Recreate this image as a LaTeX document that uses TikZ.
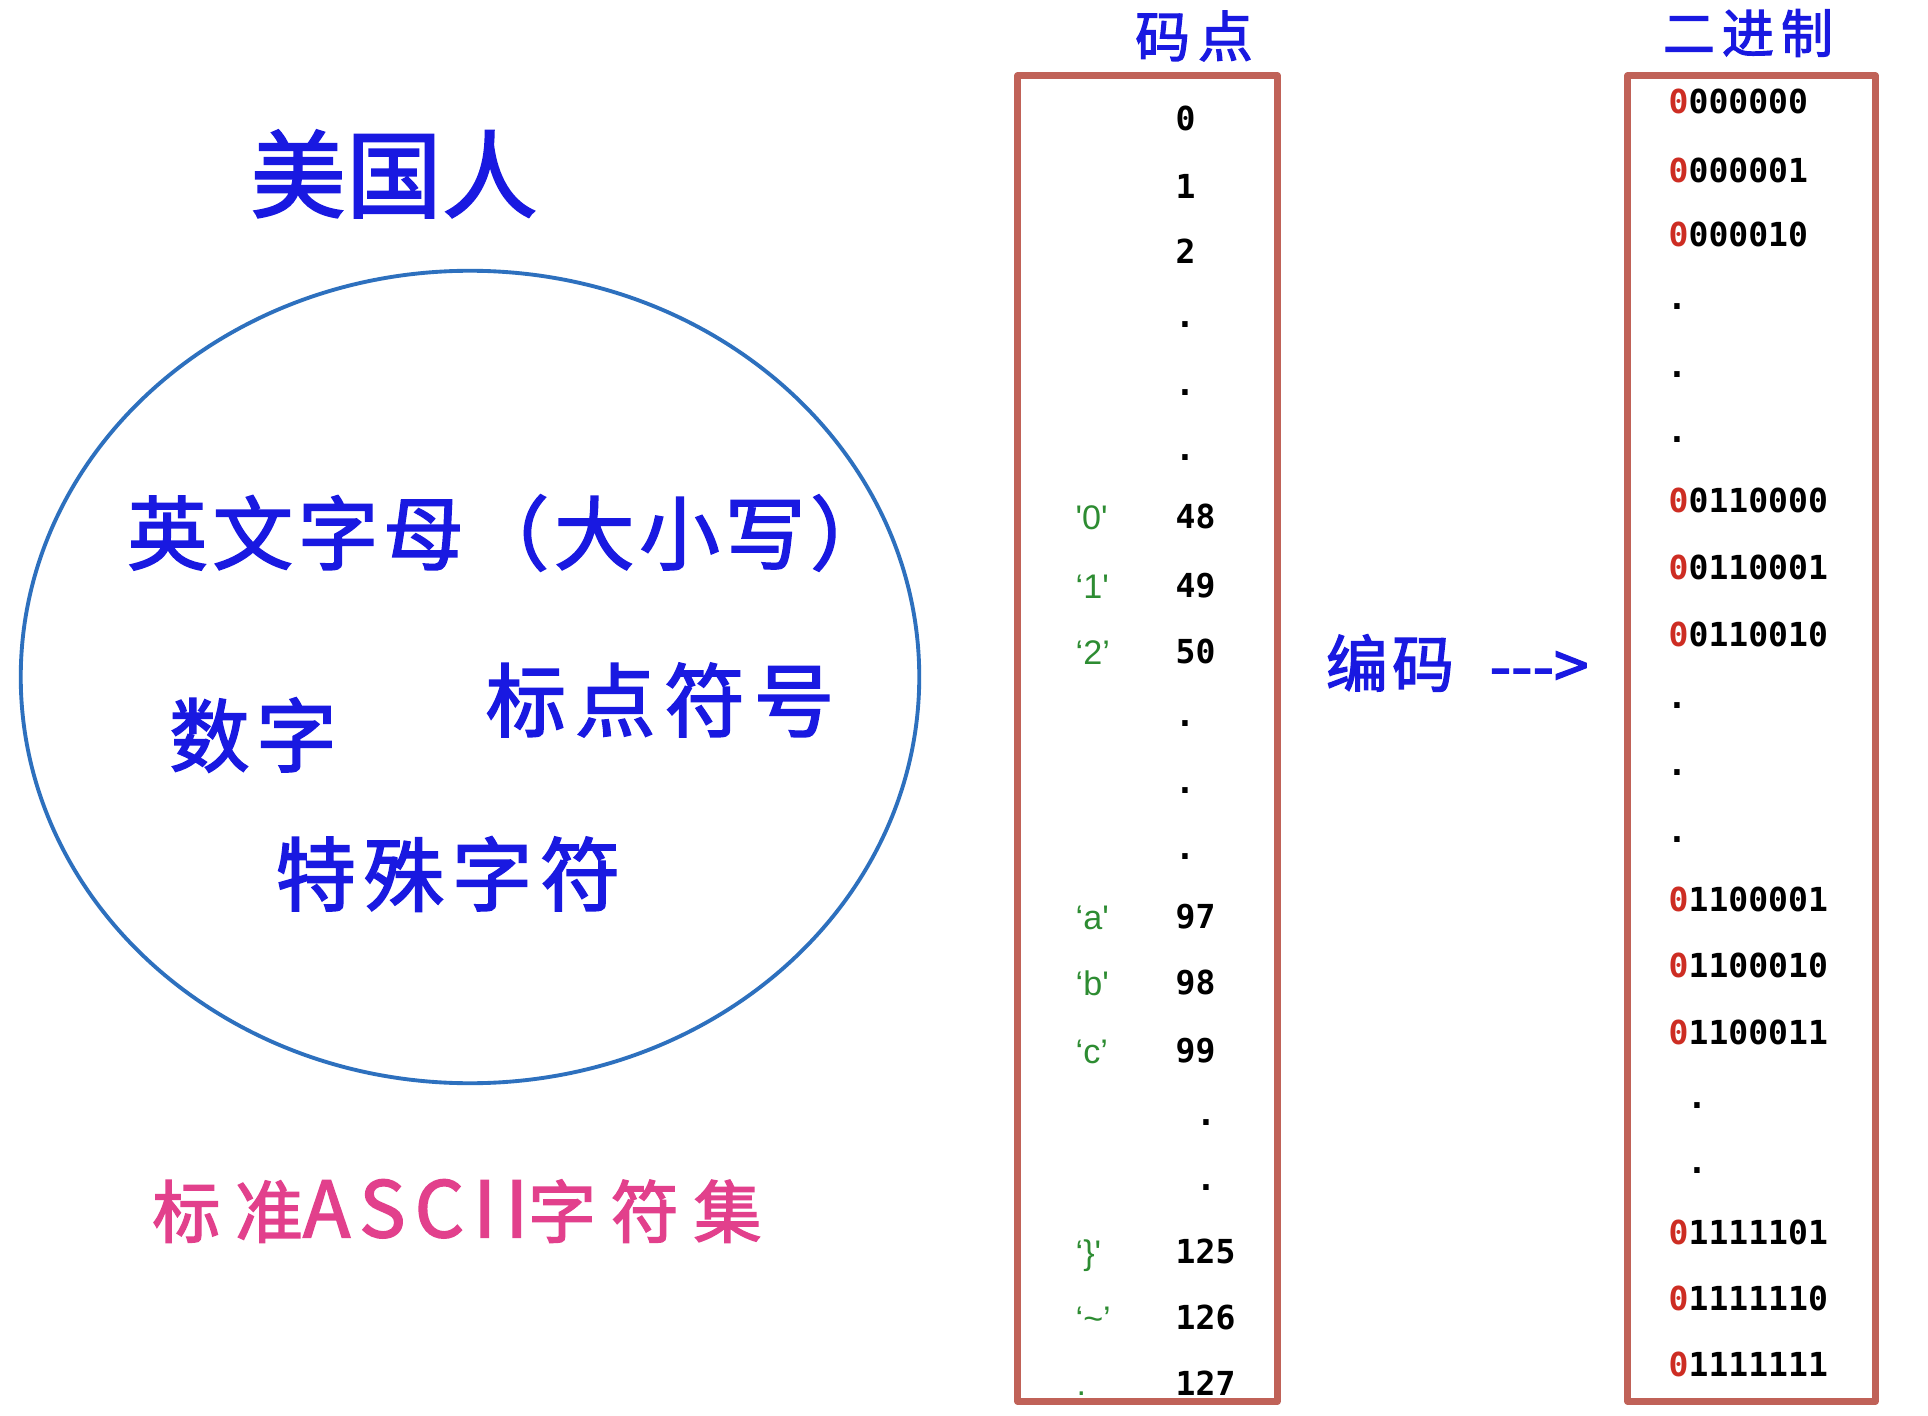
\documentclass[tikz,border=0pt]{standalone}
\usepackage{fontspec}
\usetikzlibrary{shapes.geometric}
\newfontfamily\cjkfont{Noto Sans CJK SC}[FakeBold=2.2]
\newfontfamily\monofont{DejaVu Sans Mono}
\newfontfamily\labfont{Liberation Sans}
\definecolor{hblue}{RGB}{25,25,225}
\definecolor{cblue}{RGB}{45,112,190}
\definecolor{boxred}{RGB}{192,98,88}
\definecolor{lgreen}{RGB}{45,140,50}
\definecolor{hpink}{RGB}{226,64,140}
\definecolor{zred}{RGB}{205,45,35}
\newcommand{\rz}{{\color{zred}0}}
\tikzset{
  hw/.style={text=hblue, inner sep=0pt},
  num/.style={font=\monofont\bfseries\fontsize{9.4pt}{10pt}\selectfont, inner sep=0pt, anchor=base west},
  dotm/.style={font=\monofont\bfseries\fontsize{9.4pt}{10pt}\selectfont, inner sep=0pt, anchor=base},
  glab/.style={font=\labfont\fontsize{9.7pt}{10pt}\selectfont, text=lgreen, inner sep=0pt, anchor=base west},
  colbox/.style={draw=boxred, line width=2pt, line join=round, inner sep=0pt, minimum height=13.25cm}
}
\begin{document}
\begin{tikzpicture}[x=0.01cm,y=-0.01cm]
\useasboundingbox (0,0) rectangle (1928,1416);
\fill[white] (0,0) rectangle (1928,1416);

% left part
\node[hw, font=\cjkfont\fontsize{27pt}{30pt}\selectfont] (meiguo) at (394,174) {\addfontfeature{LetterSpace=1}美国人};
\node[ellipse, draw=cblue, line width=1.1pt, inner sep=0pt, minimum width=8.98cm, minimum height=8.12cm] (ring) at (470,677) {};
\node[hw, font=\cjkfont\fontsize{22.8pt}{25pt}\selectfont] (yingwen) at (509,533) {\addfontfeature{LetterSpace=6.5}英文字母（大小写）};
\node[hw, font=\cjkfont\fontsize{22.8pt}{25pt}\selectfont] (shuzi) at (253,735) {\addfontfeature{LetterSpace=8.5}数字};
\node[hw, font=\cjkfont\fontsize{22.8pt}{25pt}\selectfont] (biaodian) at (660,700) {\addfontfeature{LetterSpace=11.5}标点符号};
\node[hw, font=\cjkfont\fontsize{22.8pt}{25pt}\selectfont] (teshu) at (448,874) {\addfontfeature{LetterSpace=10}特殊字符};
\node[hw, text=hpink, font=\cjkfont\fontsize{19.3pt}{22pt}\selectfont] (ascii) at (457,1211) {\addfontfeature{LetterSpace=22}标准{\fontsize{22pt}{24pt}\selectfont\addfontfeature{LetterSpace=12}ASCII}字符集};

% titles
\node[hw, font=\cjkfont\fontsize{15.6pt}{18pt}\selectfont] (madian) at (1194,36) {\addfontfeature{LetterSpace=14.5}码点};
\node[hw, font=\cjkfont\fontsize{14.8pt}{17pt}\selectfont] (erjin) at (1748,33) {\addfontfeature{LetterSpace=13.5}二进制};

% columns
\node[colbox, minimum width=2.59cm] (cpbox) at (1147.5,738.5) {};
\node[colbox, minimum width=2.47cm] (binbox) at (1751.5,738.5) {};

% encode label
\node[hw, font=\cjkfont\fontsize{17.6pt}{20pt}\selectfont] (bianma) at (1390,663) {\addfontfeature{LetterSpace=7}编码};
\node[hw, font=\cjkfont\fontsize{17.6pt}{20pt}\selectfont] (arr) at (1539,670) {--->};

% code points
\node[num] (c0) at (1175,131) {0};
\node[num] (c1) at (1175,199) {1};
\node[num] (c2) at (1175,264) {2};
\node[dotm] (cd1) at (1185,328) {.};
\node[dotm] (cd2) at (1185,396) {.};
\node[dotm] (cd3) at (1185,461) {.};
\node[num] (c48) at (1175,529) {48};
\node[num] (c49) at (1175,597) {49};
\node[num] (c50) at (1175,663) {50};
\node[dotm] (cd4) at (1185,726) {.};
\node[dotm] (cd5) at (1185,793) {.};
\node[dotm] (cd6) at (1185,859) {.};
\node[num] (c97) at (1175,928) {97};
\node[num] (c98) at (1175,994) {98};
\node[num] (c99) at (1175,1062) {99};
\node[dotm] (cd7) at (1206,1125) {.};
\node[dotm] (cd8) at (1206,1190) {.};
\node[num] (c125) at (1175,1263) {125};
\node[num] (c126) at (1175,1329) {126};
\node[num] (c127) at (1175,1395) {127};

% character labels
\node[glab] (g0) at (1075,530) {'0'};
\node[glab] (g1) at (1075,598) {‘1'};
\node[glab] (g2) at (1075,664) {‘2’};
\node[glab] (ga) at (1075,929) {‘a'};
\node[glab] (gb) at (1075,995) {‘b'};
\node[glab] (gc) at (1075,1063) {‘c’};
\node[glab] (gbr) at (1075,1264) {‘\}'};
\node[glab] (gti) at (1075,1330) {‘\char"007E’};
\node[glab] (gdel) at (1076,1395) {.};

% binary
\node[num] (b0) at (1668,114) {\rz000000};
\node[num] (b1) at (1668,183) {\rz000001};
\node[num] (b2) at (1668,247) {\rz000010};
\node[dotm] (bd1) at (1677,310) {.};
\node[dotm] (bd2) at (1677,378) {.};
\node[dotm] (bd3) at (1677,443) {.};
\node[num] (b48) at (1668,512) {\rz0110000};
\node[num] (b49) at (1668,579) {\rz0110001};
\node[num] (b50) at (1668,646) {\rz0110010};
\node[dotm] (bd4) at (1677,708) {.};
\node[dotm] (bd5) at (1677,775) {.};
\node[dotm] (bd6) at (1677,842) {.};
\node[num] (b97) at (1668,911) {\rz1100001};
\node[num] (b98) at (1668,977) {\rz1100010};
\node[num] (b99) at (1668,1044) {\rz1100011};
\node[dotm] (bd7) at (1697,1108) {.};
\node[dotm] (bd8) at (1697,1173) {.};
\node[num] (b125) at (1668,1244) {\rz1111101};
\node[num] (b126) at (1668,1310) {\rz1111110};
\node[num] (b127) at (1668,1376) {\rz1111111};
\end{tikzpicture}
\end{document}
